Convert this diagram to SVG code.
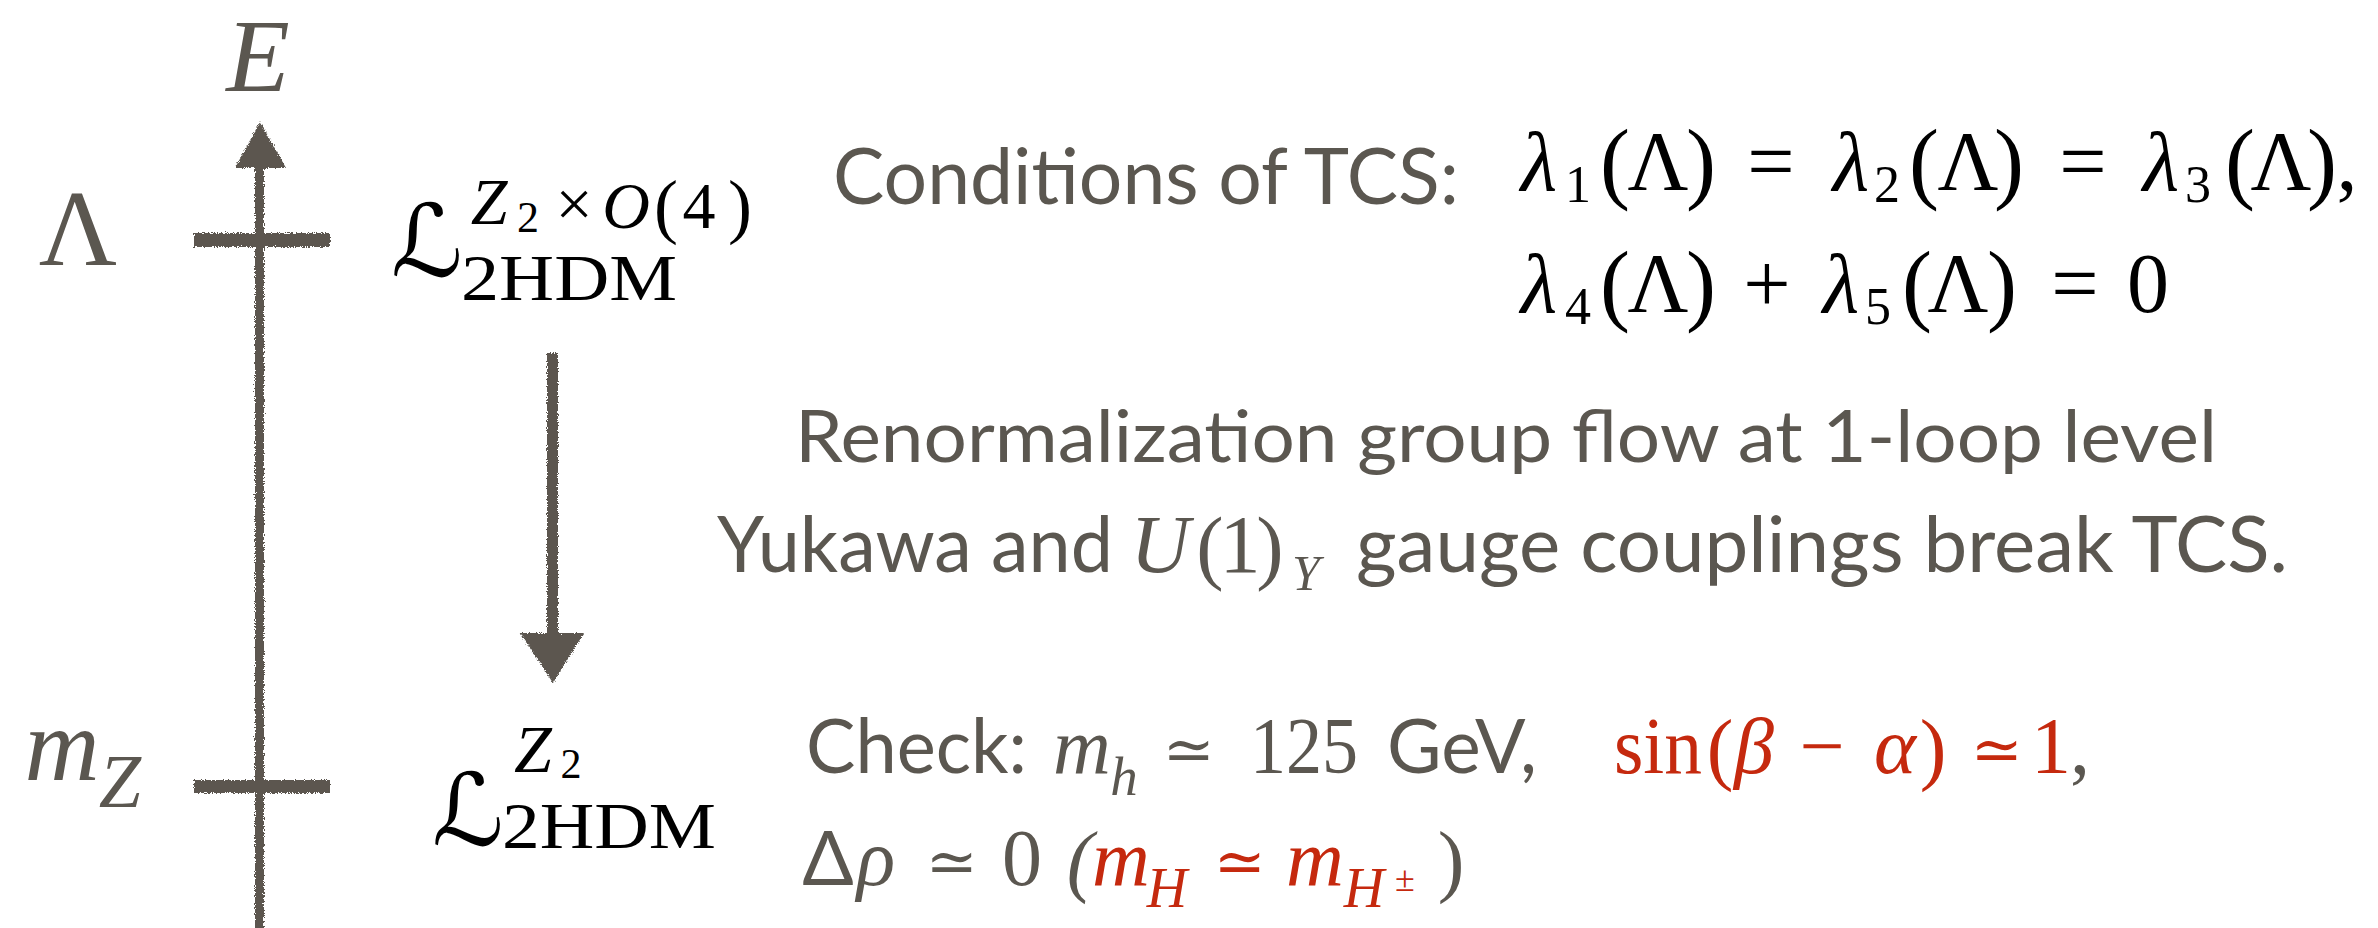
<svg xmlns="http://www.w3.org/2000/svg" width="2378" height="928" viewBox="0 0 2378 928">
<style>
.sans{font-family:Lato,"Open Sans","Noto Sans",sans-serif;fill:#5b5750}
.serif{font-family:"Liberation Serif","DejaVu Serif",serif}
.sym{font-family:"DejaVu Serif","Liberation Serif",serif}
.gray{fill:#5b5750}
.red{fill:#c5290e}
.blk{fill:#000}
.it{font-style:italic}
.cal{font-family:"DejaVu Serif","DejaVu Sans",serif;fill:#000}
.chalk{fill:#5b5750}
</style>
<defs>
<filter id="rough" x="-10%" y="-10%" width="120%" height="120%">
<feTurbulence type="fractalNoise" baseFrequency="0.9" numOctaves="2" seed="3" result="n"/>
<feDisplacementMap in="SourceGraphic" in2="n" scale="5" xChannelSelector="R" yChannelSelector="G"/>
</filter>
</defs>
<rect width="2378" height="928" fill="#fff"/>

<g id="connectors" filter="url(#rough)">
<rect class="chalk" x="255" y="160" width="9" height="770"/>
<polygon class="chalk" points="260,122 235,168 286,168"/>
<rect class="chalk" x="547" y="353" width="11" height="285"/>
<polygon class="chalk" points="520,633 584,633 553,683"/>
</g>

<g id="axis-labels">
<text class="serif gray it" x="258" y="91" font-size="104" text-anchor="middle">E</text>
</g>

<g id="level-lambda">
<rect class="chalk" x="194" y="233" width="136" height="14" filter="url(#rough)"/>
<text class="serif gray" x="78" y="265" font-size="108" text-anchor="middle">Λ</text>
</g>

<g id="level-mz">
<rect class="chalk" x="194" y="780" width="136" height="13" filter="url(#rough)"/>
<text class="serif gray it" font-size="104"><tspan x="62" y="780" text-anchor="middle">m</tspan><tspan x="120" y="807" font-size="76" text-anchor="middle">Z</tspan></text>
</g>

<g id="lagrangian-uv">
<text class="serif blk" font-size="66"><tspan class="cal" x="427" y="276" font-size="100" text-anchor="middle">ℒ</tspan><tspan x="489" y="224" class="it" text-anchor="middle">Z</tspan><tspan x="528" y="232" font-size="44" text-anchor="middle">2</tspan><tspan x="574" y="226" text-anchor="middle">×</tspan><tspan x="626" y="228" class="it" text-anchor="middle">O</tspan><tspan x="666" y="230" font-size="72" text-anchor="middle">(</tspan><tspan x="699" y="228" text-anchor="middle">4</tspan><tspan x="740" y="230" font-size="72" text-anchor="middle">)</tspan><tspan x="461" y="300" textLength="216" lengthAdjust="spacingAndGlyphs">2HDM</tspan></text>
</g>

<g id="lagrangian-ir">
<text class="serif blk" font-size="68"><tspan class="cal" x="468" y="845" font-size="100" text-anchor="middle">ℒ</tspan><tspan x="533" y="772" class="it" text-anchor="middle">Z</tspan><tspan x="571" y="778" font-size="42" text-anchor="middle">2</tspan><tspan x="502" y="848" font-size="66" textLength="214" lengthAdjust="spacingAndGlyphs">2HDM</tspan></text>
</g>

<g id="conditions">
<text class="sans" x="833" y="204" font-size="78" textLength="626" lengthAdjust="spacingAndGlyphs">Conditions of TCS:</text>
<text class="serif blk" font-size="84">
<tspan x="1539" y="190" class="it" text-anchor="middle">λ</tspan><tspan x="1578" y="202" font-size="52" text-anchor="middle">1</tspan><tspan x="1615" y="192" font-size="90" text-anchor="middle">(</tspan><tspan x="1658" y="190" text-anchor="middle">Λ</tspan><tspan x="1701" y="192" font-size="90" text-anchor="middle">)</tspan><tspan x="1771" y="190" text-anchor="middle">=</tspan><tspan x="1851" y="190" class="it" text-anchor="middle">λ</tspan><tspan x="1887" y="202" font-size="52" text-anchor="middle">2</tspan><tspan x="1924" y="192" font-size="90" text-anchor="middle">(</tspan><tspan x="1968" y="190" text-anchor="middle">Λ</tspan><tspan x="2009" y="192" font-size="90" text-anchor="middle">)</tspan><tspan x="2083" y="190" text-anchor="middle">=</tspan><tspan x="2161" y="190" class="it" text-anchor="middle">λ</tspan><tspan x="2198" y="202" font-size="52" text-anchor="middle">3</tspan><tspan x="2240" y="192" font-size="90" text-anchor="middle">(</tspan><tspan x="2281" y="190" text-anchor="middle">Λ</tspan><tspan x="2322" y="192" font-size="90" text-anchor="middle">)</tspan><tspan x="2347" y="190" text-anchor="middle">,</tspan>
</text>
<text class="serif blk" font-size="84">
<tspan x="1539" y="312" class="it" text-anchor="middle">λ</tspan><tspan x="1578" y="324" font-size="52" text-anchor="middle">4</tspan><tspan x="1615" y="314" font-size="90" text-anchor="middle">(</tspan><tspan x="1658" y="312" text-anchor="middle">Λ</tspan><tspan x="1701" y="314" font-size="90" text-anchor="middle">)</tspan><tspan x="1767" y="312" text-anchor="middle">+</tspan><tspan x="1841" y="312" class="it" text-anchor="middle">λ</tspan><tspan x="1878" y="324" font-size="52" text-anchor="middle">5</tspan><tspan x="1917" y="314" font-size="90" text-anchor="middle">(</tspan><tspan x="1958" y="312" text-anchor="middle">Λ</tspan><tspan x="2002" y="314" font-size="90" text-anchor="middle">)</tspan><tspan x="2075" y="312" text-anchor="middle">=</tspan><tspan x="2148" y="312" text-anchor="middle">0</tspan>
</text>
</g>

<g id="rg-flow">
<text class="sans" x="795" y="462" font-size="71" textLength="1422" lengthAdjust="spacingAndGlyphs">Renormalization group flow at 1-loop level</text>
<text class="sans" x="717" y="572" font-size="77" textLength="396" lengthAdjust="spacingAndGlyphs">Yukawa and</text>
<text class="serif gray" font-size="82"><tspan x="1160" y="572" class="it" text-anchor="middle">U</tspan><tspan x="1210" y="574" text-anchor="middle">(</tspan><tspan x="1240" y="572" text-anchor="middle">1</tspan><tspan x="1270" y="574" text-anchor="middle">)</tspan><tspan x="1306" y="590" font-size="50" class="it" text-anchor="middle">Y</tspan></text>
<text class="sans" x="1356" y="572" font-size="77" textLength="932" lengthAdjust="spacingAndGlyphs">gauge couplings break TCS.</text>
</g>

<g id="check">
<text class="sans" x="806" y="773" font-size="76" textLength="221" lengthAdjust="spacingAndGlyphs">Check:</text>
<text class="serif gray" font-size="80"><tspan x="1082" y="773" class="it" text-anchor="middle">m</tspan><tspan x="1124" y="795" font-size="55" class="it" text-anchor="middle">h</tspan></text>
<text class="sym gray" x="1189" y="771" font-size="62" text-anchor="middle">≃</text>
<text class="serif gray" x="1250" y="773" font-size="80" textLength="108" lengthAdjust="spacingAndGlyphs">125</text>
<text class="sans" x="1387" y="773" font-size="76" textLength="150" lengthAdjust="spacingAndGlyphs">GeV,</text>
<text class="serif red" x="1614" y="773" font-size="80" textLength="88" lengthAdjust="spacingAndGlyphs">sin</text>
<text class="serif red" font-size="80"><tspan x="1720" y="775" text-anchor="middle">(</tspan><tspan x="1754" y="773" class="it" text-anchor="middle">β</tspan><tspan x="1822" y="773" text-anchor="middle">−</tspan><tspan x="1895" y="773" class="it" text-anchor="middle">α</tspan><tspan x="1933" y="775" text-anchor="middle">)</tspan><tspan class="sym" x="1997" y="771" font-size="62" text-anchor="middle">≃</tspan><tspan x="2051" y="773" text-anchor="middle">1</tspan><tspan class="gray" x="2080" y="773" text-anchor="middle">,</tspan></text>
<text class="sans" x="828" y="885" font-size="76" text-anchor="middle">Δ</text>
<text class="serif gray it" x="876" y="885" font-size="80" text-anchor="middle">ρ</text>
<text class="sym gray" x="952" y="883" font-size="62" text-anchor="middle">≃</text>
<text class="serif gray" x="1022" y="885" font-size="80" text-anchor="middle">0</text>
<text class="serif gray it" x="1080" y="887" font-size="80" text-anchor="middle">(</text>
<text class="serif red it" font-size="80"><tspan x="1121" y="885" text-anchor="middle">m</tspan><tspan x="1167" y="907" font-size="56" text-anchor="middle">H</tspan></text>
<text class="sym red" x="1240" y="883" font-size="62" text-anchor="middle">≃</text>
<text class="serif red it" font-size="80"><tspan x="1315" y="885" text-anchor="middle">m</tspan><tspan x="1364" y="907" font-size="56" text-anchor="middle">H</tspan><tspan x="1405" y="891" font-size="36" font-style="normal" text-anchor="middle">±</tspan></text>
<text class="serif gray" x="1451" y="887" font-size="80" text-anchor="middle">)</text>
</g>
</svg>
